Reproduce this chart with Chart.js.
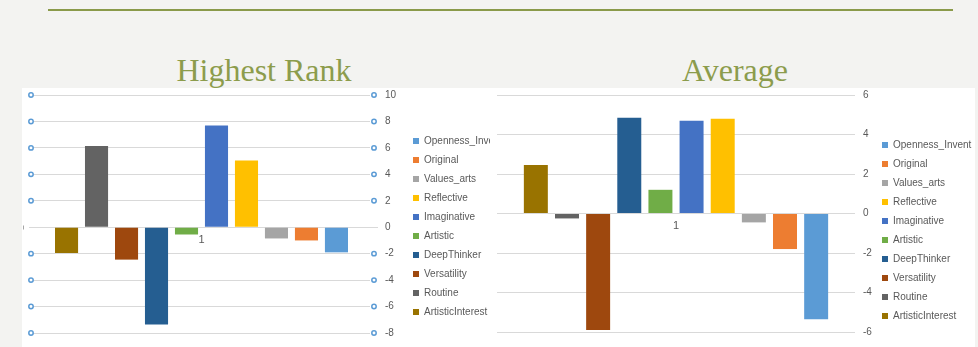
<!DOCTYPE html>
<html>
<head>
<meta charset="utf-8">
<script src="https://cdn.jsdelivr.net/npm/chart.js@4.4.0/dist/chart.umd.min.js"></script>
<style>
  html, body { margin: 0; padding: 0; }
  body { width: 978px; height: 347px; background: #f3f3f1; position: relative; overflow: hidden; }
  .rule { position: absolute; left: 48px; top: 9px; width: 905px; height: 2px; background: #8a9a4a; }
  .title { position: absolute; top: 54px; width: 300px; text-align: center; font-family: "Liberation Serif", serif; font-size: 32px; line-height: 32px; color: #8c9c4c; }
  .panel { position: absolute; top: 88px; height: 259px; background: #fff; }
  #leftPanel { left: 22px; width: 468px; z-index: 1; }
  #rightPanel { left: 490px; width: 485px; z-index: 2; }
  canvas { position: absolute; left: 0; top: 0; }
</style>
</head>
<body>
<div class="rule"></div>
<div class="title" style="left:114px">Highest Rank</div>
<div class="title" style="left:585px">Average</div>
<div class="panel" id="leftPanel"><canvas id="rankChart" width="482" height="256"></canvas></div>
<div class="panel" id="rightPanel"><canvas id="avgChart" width="488" height="256"></canvas></div>
<script>
// series in bar order, left to right
const categories = ['1'];
const seriesNames = ['ArtisticInterest', 'Routine', 'Versatility', 'DeepThinker', 'Artistic',
                     'Imaginative', 'Reflective', 'Values_arts', 'Original', 'Openness_Invent'];
const seriesColors = ['#997300', '#636363', '#9e480e', '#255e91', '#70ad47',
                      '#4472c4', '#ffc000', '#a5a5a5', '#ed7d31', '#5b9bd5'];
const highestRank = [-1.95, 6.15, -2.45, -7.35, -0.55, 7.7, 5.05, -0.85, -1.0, -1.9];
const average = [2.45, -0.25, -5.9, 4.85, 1.2, 4.7, 4.8, -0.45, -1.8, -5.35];
const rankTicks = { min: -8, max: 10, step: 2 };
const avgTicks = { min: -6, max: 6, step: 2 };

Chart.defaults.font.family = '"Liberation Sans", sans-serif';
Chart.defaults.color = '#595959';

// hollow blue markers at both ends of each gridline, short dashes at zero (Excel leftovers)
const tickCircles = {
    id: 'tickCircles',
    afterDraw(chart) {
        const { ctx, chartArea, scales: { y } } = chart;
        ctx.save();
        ctx.strokeStyle = '#5b9bd5';
        ctx.fillStyle = '#ffffff';
        ctx.lineWidth = 1.5;
        y.ticks.forEach(t => {
            const py = y.getPixelForValue(t.value);
            if (t.value === 0) {
                const ly = Math.round(py) + 0.5;
                ctx.save();
                ctx.strokeStyle = '#d9d9d9';
                ctx.lineWidth = 1;
                ctx.beginPath();
                ctx.moveTo(chartArea.left - 4, ly);
                ctx.lineTo(chartArea.left, ly);
                ctx.moveTo(chartArea.right, ly);
                ctx.lineTo(chartArea.right + 8, ly);
                ctx.stroke();
                ctx.strokeStyle = '#a6a6a6';
                ctx.beginPath();
                ctx.moveTo(1.5, ly - 2);
                ctx.lineTo(1.5, ly + 2);
                ctx.stroke();
                ctx.restore();
                return;
            }
            [chartArea.left - 2, chartArea.right + 4].forEach(px => {
                ctx.beginPath();
                ctx.arc(px, py, 2.2, 0, Math.PI * 2);
                ctx.fill();
                ctx.stroke();
            });
        });
        ctx.restore();
    }
};

function buildChart(id, values, ticks, o) {
    const ctx = document.getElementById(id).getContext('2d');
    return new Chart(ctx, {
        type: 'bar',
        data: {
            labels: categories,
            datasets: seriesNames.map((name, i) => ({
                label: name,
                data: [values[i]],
                backgroundColor: seriesColors[i],
                categoryPercentage: o.catPct,
                barPercentage: 0.77
            }))
        },
        options: {
            responsive: false,
            animation: false,
            layout: { padding: o.padding },
            scales: {
                x: {
                    position: { y: 0 },
                    grid: { display: false, drawTicks: false },
                    border: { display: false },
                    ticks: { color: '#595959', font: { size: 11 }, padding: 6 }
                },
                y: {
                    position: 'right',
                    min: ticks.min,
                    max: ticks.max,
                    ticks: { stepSize: ticks.step, color: '#595959', font: { size: 10 }, padding: 0 },
                    grid: { color: '#d9d9d9', tickLength: o.tickLen, tickColor: 'rgba(0,0,0,0)' },
                    border: { display: false },
                    afterFit: s => { s.width = o.axisWidth; }
                }
            },
            plugins: {
                legend: {
                    position: 'right',
                    reverse: true,
                    maxWidth: 100,
                    title: { display: true, text: '', font: { size: 10 }, padding: o.legendShift },
                    labels: { boxWidth: 6, boxHeight: 6, padding: 9, color: '#595959', font: { size: 10 } }
                },
                tooltip: { enabled: false }
            }
        },
        plugins: o.circles ? [tickCircles] : []
    });
}

buildChart('rankChart', highestRank, rankTicks, {
    catPct: 0.89, padding: { left: 11, top: 7, right: 0, bottom: 11 },
    tickLen: 15, axisWidth: 34, legendShift: 6.5, circles: true
});
buildChart('avgChart', average, avgTicks, {
    catPct: 0.87, padding: { left: 7, top: 7, right: 5, bottom: 12 },
    tickLen: 8, axisWidth: 18, legendShift: 11, circles: false
});
</script>
</body>
</html>
